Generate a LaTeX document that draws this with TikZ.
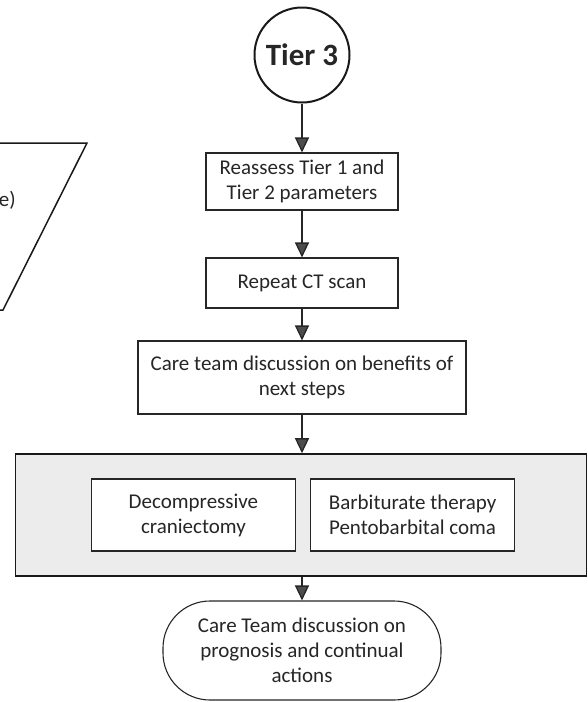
\documentclass[tikz,border=0pt]{standalone}
\usepackage{fontspec}
\setmainfont{Carlito}
\usetikzlibrary{shapes,arrows.meta,positioning}

\begin{document}
\begin{tikzpicture}[x=1pt,y=1pt,
     block/.style = {draw=black!85, line width=1.1pt, rectangle, fill=white, align=center,
      text=black!85, font=\fontsize{21}{25}\selectfont, inner sep=0pt},
     tier/.style = {draw=black!90, line width=2pt, circle, minimum size=95pt, inner sep=0pt,
      font=\fontsize{31}{31}\selectfont\bfseries, text=black!85},
     panel/.style = {draw=black!90, line width=1.6pt, rectangle, fill=gray!15,
      minimum width=571pt, minimum height=122pt, inner sep=0pt},
     finish/.style = {block, rounded corners=47pt, minimum width=278pt, minimum height=99pt},
     arrow/.style = {draw=black!85, line width=1.3pt, -{Triangle[width=14pt,length=15pt,fill=black!70]}}
    ]
    \useasboundingbox (0,0) rectangle (588,-702);

    % cut-off shape on the left
    \draw[line width=1.5pt, black!90] (-10,-143) -- (87,-143) -- (3,-310) -- (-10,-310);
    \node[anchor=base east, inner sep=0pt, text=black!85, font=\fontsize{21}{25}\selectfont] (cutoff) at (16,-206) {e)};

    \node [tier] (tier3) at (302,-55) {Tier 3};
    \node [block, below of=tier3, node distance=126.5pt, minimum width=192pt, minimum height=57pt] (reassess) {Reassess Tier 1 and\\Tier 2 parameters};
    \node [block, below of=reassess, node distance=101.5pt, minimum width=192pt, minimum height=50pt] (ctscan) {Repeat CT scan};
    \node [block, below of=ctscan, node distance=94.5pt, minimum width=328pt, minimum height=73pt] (discuss) {Care team discussion on benefits of\\next steps};
    \node [panel, below of=discuss, node distance=137.5pt, xshift=-1pt] (options) {};
    \node [block, left=5pt of options.center, minimum width=204pt, minimum height=72pt] (decomp) {Decompressive\\craniectomy};
    \node [block, right=9pt of options.center, minimum width=204pt, minimum height=72pt] (barb) {Barbiturate therapy\\Pentobarbital coma};
    \node [finish, below of=discuss, node distance=273pt] (prognosis) {Care Team discussion on\\prognosis and continual\\actions};

    \draw[arrow] (tier3) -- (reassess);
    \draw[arrow] (reassess) -- (ctscan);
    \draw[arrow] (ctscan) -- (discuss);
    \draw[arrow] (discuss.south) -- (discuss.south |- options.north);
    \draw[arrow] (prognosis.north |- options.south) -- (prognosis.north);
\end{tikzpicture}
\end{document}
